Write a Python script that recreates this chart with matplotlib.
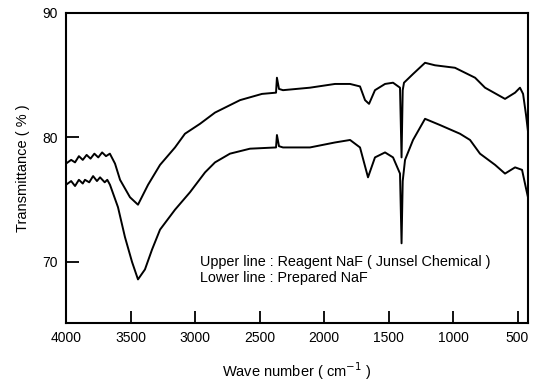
import matplotlib
matplotlib.use("Agg")
import matplotlib.pyplot as plt

plt.rcParams['font.family'] = ['Liberation Sans', 'DejaVu Sans']

# Upper line: Reagent NaF (Junsel Chemical)
upper_x = [4000, 3960, 3930, 3900, 3870, 3840, 3810, 3780, 3750, 3720, 3690, 3660, 3640,
           3620, 3581, 3504, 3442, 3364, 3271, 3155, 3078, 2961, 2845, 2651, 2481,
           2372, 2365, 2349, 2318, 2109, 1915, 1798, 1721, 1682, 1651, 1605, 1527,
           1465, 1411, 1399, 1390, 1380, 1310, 1217, 1140, 985, 829, 752, 597,
           519, 481, 457, 434, 419]
upper_y = [77.9, 78.2, 78.0, 78.5, 78.2, 78.6, 78.3, 78.7, 78.4, 78.8, 78.5, 78.7, 78.3,
           77.9, 76.6, 75.2, 74.6, 76.2, 77.8, 79.2, 80.3, 81.1, 82.0, 83.0, 83.5,
           83.6, 84.8, 83.9, 83.8, 84.0, 84.3, 84.3, 84.1, 83.0, 82.7, 83.8, 84.3,
           84.4, 84.0, 78.4, 83.8, 84.4, 85.1, 86.0, 85.8, 85.6, 84.8, 84.0, 83.1,
           83.6, 84.0, 83.5, 81.8, 80.5]

# Lower line: Prepared NaF
lower_x = [4000, 3960, 3930, 3900, 3870, 3853, 3820, 3790, 3760, 3736, 3700, 3680,
           3659, 3597, 3543, 3488, 3442, 3388, 3333, 3271, 3155, 3039, 2922, 2845,
           2729, 2574, 2372, 2365, 2349, 2318, 2109, 1915, 1798, 1721, 1659, 1605,
           1527, 1465, 1411, 1399, 1390, 1372, 1310, 1217, 1101, 946, 868, 791,
           674, 597, 519, 465, 434, 419]
lower_y = [76.2, 76.5, 76.1, 76.6, 76.3, 76.6, 76.4, 76.9, 76.5, 76.8, 76.4, 76.6,
           76.2, 74.4, 72.0, 70.0, 68.6, 69.4, 71.0, 72.6, 74.2, 75.6, 77.2, 78.0,
           78.7, 79.1, 79.2, 80.2, 79.3, 79.2, 79.2, 79.6, 79.8, 79.2, 76.8, 78.4,
           78.8, 78.4, 77.1, 71.5, 76.5, 78.2, 79.8, 81.5, 81.0, 80.3, 79.8, 78.7,
           77.8, 77.1, 77.6, 77.4, 75.9, 75.2]

xticks = [4000, 3500, 3000, 2500, 2000, 1500, 1000, 500]
yticks = [70, 80, 90]

fig = plt.figure(figsize=(5.37, 3.82), dpi=100)
ax = fig.add_axes([0.1229, 0.1545, 0.8603, 0.8115])

ax.plot(upper_x, upper_y, color='black', lw=1.4)
ax.plot(lower_x, lower_y, color='black', lw=1.4)

ax.set_xlim(4000, 419)
ax.set_ylim(65.1, 90)
ax.set_xticks(xticks)
ax.set_yticks(yticks)
ax.tick_params(direction='in', length=9, width=1.3, labelsize=10, pad=6)
for s in ax.spines.values():
    s.set_linewidth(1.5)

ax.set_xlabel('Wave number ( cm$^{-1}$ )', fontsize=10.5, labelpad=11)
ax.set_ylabel('Transmittance ( % )', fontsize=10.5, labelpad=9)

ax.text(2960, 70.0, 'Upper line : Reagent NaF ( Junsel Chemical )', fontsize=10.4,
        va='center', ha='left')
ax.text(2960, 68.7, 'Lower line : Prepared NaF', fontsize=10.4,
        va='center', ha='left')

fig.savefig('out.png', dpi=100)
